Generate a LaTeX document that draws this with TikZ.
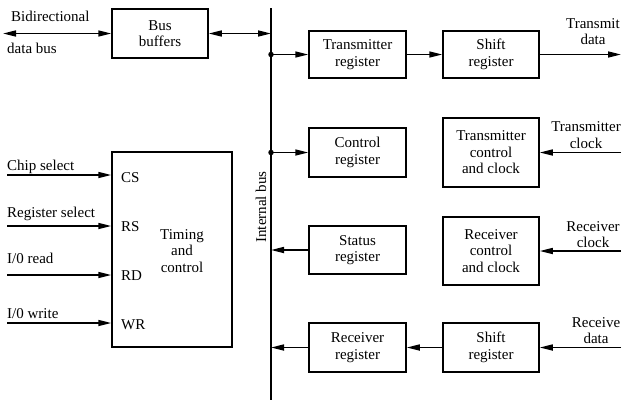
\documentclass[tikz,border=0pt]{standalone}
\usepackage{fontspec}
\setmainfont{Liberation Serif}
\usetikzlibrary{arrows.meta}
\begin{document}
\begin{tikzpicture}[x=1pt,y=-1pt,
  blk/.style={draw,line width=1.5pt,inner sep=0pt,align=center,font=\fontsize{15}{16.5}\selectfont},
  txt/.style={inner sep=0pt,align=center,font=\fontsize{15}{16.5}\selectfont},
  arr/.style={line width=1.6pt,-{Triangle[length=13pt,width=6pt]}},
  barr/.style={line width=1.6pt,{Triangle[length=13pt,width=6pt]}-{Triangle[length=13pt,width=6pt]}},
  jdot/.style={circle,fill,inner sep=0pt,minimum size=5.5pt}]
\useasboundingbox (0,0) rectangle (623,400);

% blocks
\node[blk,minimum width=96pt,minimum height=49pt] (buf) at (160,33.5) {Bus\\buffers};
\node[blk,minimum width=97pt,minimum height=47pt] (treg) at (357.5,54.5) {Transmitter\\register};
\node[blk,minimum width=96pt,minimum height=47pt] (tshift) at (491,54.5) {Shift\\register};
\node[blk,minimum width=97pt,minimum height=49pt] (creg) at (357.5,152.5) {Control\\register};
\node[blk,minimum width=96pt,minimum height=69pt] (tcc) at (491,152.5) {Transmitter\\control\\and clock};
\node[blk,minimum width=97pt,minimum height=48pt] (sreg) at (357.5,250) {Status\\register};
\node[blk,minimum width=96pt,minimum height=68pt] (rcc) at (491,251) {Receiver\\control\\and clock};
\node[blk,minimum width=97pt,minimum height=49pt] (rreg) at (357.5,347.5) {Receiver\\register};
\node[blk,minimum width=96pt,minimum height=49pt] (rshift) at (491,347.5) {Shift\\register};
\node[blk,minimum width=120pt,minimum height=195pt] (timing) at (172,249.5) {};
\node[txt] (tctext) at (182,251) {Timing\\and\\control};

% internal bus
\coordinate (bustop) at (271,8);
\coordinate (busbot) at (271,400);
\draw[line width=1.6pt] (bustop) -- (busbot);
\node[txt,rotate=90] (buslbl) at (261,207) {Internal bus};

% bus junctions
\coordinate (jbuf) at (271,33.5);
\coordinate (jt) at (271,54.5);
\coordinate (jc) at (271,152.5);
\coordinate (js) at (271,250);
\coordinate (jr) at (271,347.5);
\node[jdot] (dt) at (jt) {};
\node[jdot] (dc) at (jc) {};

% external ends
\coordinate (dbus) at (3,33.5);
\coordinate (txd) at (621,54.5);
\coordinate (txc) at (621,152.5);
\coordinate (rxc) at (621,251);
\coordinate (rxd) at (621,347.5);

% connectors
\draw[barr] (dbus) -- (buf.west);
\draw[barr] (buf.east) -- (jbuf);
\draw[arr] (jt) -- (treg.west);
\draw[arr] (treg.east) -- (tshift.west);
\draw[arr] (tshift.east) -- (txd);
\draw[arr] (jc) -- (creg.west);
\draw[arr] (txc) -- (tcc.east);
\draw[arr] (sreg.west) -- (js);
\draw[arr] (rxc) -- (rcc.east);
\draw[arr] (rshift.west) -- (rreg.east);
\draw[arr] (rreg.west) -- (jr);
\draw[arr] (rxd) -- (rshift.east);

% timing inputs
\coordinate (ics) at (7,175);
\coordinate (irs) at (7,226);
\coordinate (ird) at (7,275);
\coordinate (iwr) at (7,323);
\draw[arr] (ics) -- (ics -| timing.west);
\draw[arr] (irs) -- (irs -| timing.west);
\draw[arr] (ird) -- (ird -| timing.west);
\draw[arr] (iwr) -- (iwr -| timing.west);

% labels
\node[txt,anchor=base west] (l1) at (11,21) {Bidirectional};
\node[txt,anchor=base west] (l2) at (7,53) {data bus};
\node[txt] (l3) at (593,31.5) {Transmit\\data};
\node[txt] (l4) at (586,135) {Transmitter\\clock};
\node[txt] (l5) at (593,234.5) {Receiver\\clock};
\node[txt] (l6) at (596,330.5) {Receive\\data};
\node[txt,anchor=base west] (l7) at (7,170) {Chip select};
\node[txt,anchor=base west] (l8) at (7,217) {Register select};
\node[txt,anchor=base west] (l9) at (7,263) {I/0 read};
\node[txt,anchor=base west] (l10) at (7,318) {I/0 write};
\node[txt,anchor=base west] (p1) at (121,182.5) {CS};
\node[txt,anchor=base west] (p2) at (121,231.5) {RS};
\node[txt,anchor=base west] (p3) at (121,280.5) {RD};
\node[txt,anchor=base west] (p4) at (121,329.5) {WR};
\end{tikzpicture}
\end{document}
